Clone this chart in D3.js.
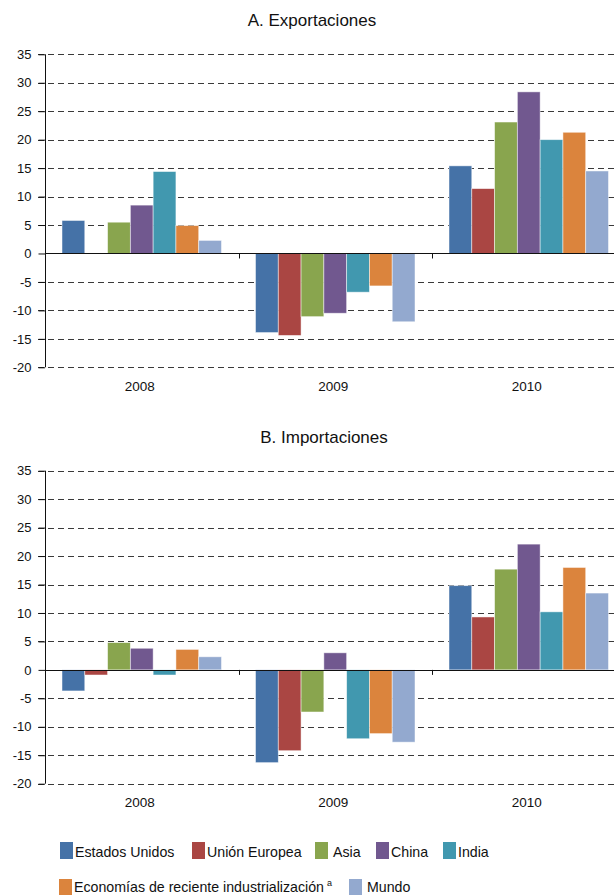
<!DOCTYPE html>
<html>
<head>
<meta charset="utf-8">
<script src="https://cdn.jsdelivr.net/npm/d3@7"></script>
<style>
  body { margin: 0; background: #fff; }
  svg { display: block; font-family: "Liberation Sans", Arial, sans-serif; }
</style>
</head>
<body>
<div id="chart"></div>
<script>
const years = ["2008", "2009", "2010"];
const series = ["Estados Unidos", "Unión Europea", "Asia", "China", "India",
    "Economías de reciente industrialización", "Mundo"];
const colors = ["#4572A7", "#AA4643", "#89A54E", "#71588F", "#4198AF", "#DB843D", "#93A9CF"];
const yTicks = [35, 30, 25, 20, 15, 10, 5, 0, -5, -10, -15, -20];

// values per series, in year order 2008, 2009, 2010
const exportaciones = [
    [5.8, -13.9, 15.4],
    [0, -14.4, 11.4],
    [5.5, -11.1, 23.1],
    [8.5, -10.5, 28.4],
    [14.4, -6.8, 20.0],
    [4.9, -5.7, 21.3],
    [2.3, -12.0, 14.5]
];
const importaciones = [
    [-3.7, -16.3, 14.8],
    [-0.9, -14.2, 9.3],
    [4.8, -7.4, 17.7],
    [3.8, 3.0, 22.1],
    [-0.9, -12.1, 10.2],
    [3.6, -11.2, 18.0],
    [2.3, -12.7, 13.5]
];

const W = 614, H = 895;
const svg = d3.select("#chart").append("svg")
    .attr("width", W)
    .attr("height", H);

function buildPanel(title, values, top, titleX, titleY) {
    const axisX = 45;
    const y = d3.scaleLinear().domain([-20, 35]).range([top + 313, top]);
    const x0 = d3.scaleBand().domain(years).range([axisX, axisX + 3 * 193.5]);
    const x1 = d3.scaleBand().domain(series).range([17, 17 + 159.5]);

    svg.append("text")
        .attr("x", titleX)
        .attr("y", titleY)
        .attr("text-anchor", "middle")
        .attr("font-size", 17)
        .attr("fill", "#111")
        .text(title);

    const g = svg.append("g");

    // dashed gridlines
    g.selectAll("line.grid")
        .data(yTicks.filter(d => d !== 0))
        .enter()
        .append("line")
        .attr("class", "grid")
        .attr("x1", axisX - 7)
        .attr("x2", W)
        .attr("y1", d => Math.round(y(d)) + 0.5)
        .attr("y2", d => Math.round(y(d)) + 0.5)
        .attr("stroke", "#3a3a3a")
        .attr("stroke-width", 1)
        .attr("stroke-dasharray", "6,4");

    // bars
    series.forEach((s, i) => {
        g.selectAll("rect.s" + i)
            .data(values[i])
            .enter()
            .append("rect")
            .attr("x", (d, j) => x0(years[j]) + x1(s))
            .attr("width", x1.bandwidth())
            .attr("y", d => y(Math.max(0, d)))
            .attr("height", d => Math.abs(y(d) - y(0)))
            .attr("fill", colors[i])
            .attr("stroke", "#ffffff")
            .attr("stroke-opacity", 0.6)
            .attr("stroke-width", 0.8);
    });

    // y axis
    const yAxis = g.append("g")
        .attr("transform", "translate(" + axisX + ",0)")
        .call(d3.axisLeft(y).tickValues(yTicks).tickFormat(d => String(d)).tickSize(6.5).tickPadding(7));
    yAxis.select(".domain").remove();
    yAxis.selectAll("text").attr("font-size", 13).attr("fill", "#111");
    yAxis.selectAll("line").attr("stroke", "#111");
    g.append("line")
        .attr("x1", axisX + 0.5).attr("x2", axisX + 0.5)
        .attr("y1", y(35)).attr("y2", y(-20))
        .attr("stroke", "#111");

    // zero line with category ticks
    const xAxis = g.append("g")
        .attr("transform", "translate(0," + (Math.round(y(0)) + 0.5) + ")")
        .call(d3.axisBottom(x0).tickValues([]).tickSizeOuter(0));
    xAxis.select(".domain").attr("stroke", "#111").attr("d", "M" + axisX + ",0H" + W);
    g.selectAll("line.ctick")
        .data(years)
        .enter()
        .append("line")
        .attr("class", "ctick")
        .attr("x1", d => Math.round(x0(d)) + 0.5)
        .attr("x2", d => Math.round(x0(d)) + 0.5)
        .attr("y1", y(0))
        .attr("y2", y(0) + 5)
        .attr("stroke", "#111");

    // year labels
    g.selectAll("text.year")
        .data(years)
        .enter()
        .append("text")
        .attr("class", "year")
        .attr("x", d => x0(d) + x0.bandwidth() / 2 - 2)
        .attr("y", y(-20) + 23.5)
        .attr("text-anchor", "middle")
        .attr("font-size", 13.5)
        .attr("fill", "#111")
        .text(d => d);
}

buildPanel("A. Exportaciones", exportaciones, 54.3, 312, 26);
buildPanel("B. Importaciones", importaciones, 470.7, 324, 443);

// legend
const legendPos = [[60, 842], [192, 842], [315, 842], [376, 842], [443, 842], [59, 879], [349, 879]];
const legend = svg.append("g");
series.forEach((s, i) => {
    const [lx, ly] = legendPos[i];
    legend.append("rect")
        .attr("x", lx).attr("y", ly)
        .attr("width", 13).attr("height", 17)
        .attr("fill", colors[i]);
    const t = legend.append("text")
        .attr("x", lx + 15 + (i === 2 || i === 6 ? 3 : 0))
        .attr("y", ly + (i >= 5 ? 12.5 : 15))
        .attr("font-size", 14.2)
        .attr("fill", "#111")
        .text(s);
    if (i === 5) {
        t.append("tspan")
            .attr("dx", 3)
            .attr("dy", -6)
            .attr("font-size", 9)
            .text("a");
    }
});
</script>
</body>
</html>
